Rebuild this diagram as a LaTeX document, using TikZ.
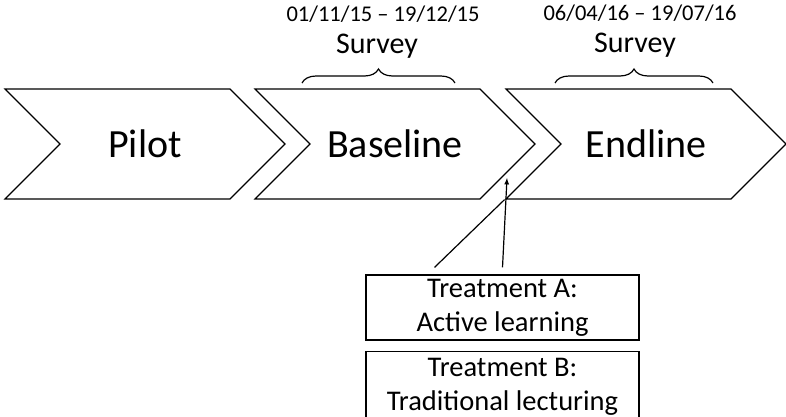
\documentclass[tikz,border=0pt]{standalone}
\usepackage{fontspec}
\setmainfont{Carlito}
\usetikzlibrary{positioning}
\usetikzlibrary{shapes.symbols}
\usetikzlibrary{decorations.pathreplacing}
\usetikzlibrary{arrows}
\tikzset{phase/.style={
          draw, line width=1.2pt, shape=signal, signal from=west, signal to=east,
          minimum width=280pt, minimum height=110pt, inner sep=0pt,
          font=\fontsize{40}{44}\selectfont
          },
        survey brace/.style={
          draw, line width=1.2pt, decorate, decoration={brace, amplitude=14pt}
          },
        survey label/.style={font=\fontsize{30}{34}\selectfont},
        date label/.style={font=\fontsize{22.5}{26}\selectfont},
        treatment/.style={
          draw, line width=1.2pt, minimum width=273pt, minimum height=65pt,
          inner sep=0pt, align=center, font=\fontsize{28.5}{34}\selectfont
          },
}
\begin{document}
\begin{tikzpicture}[x=1pt, y=-1pt]
      \useasboundingbox (0,0) rectangle (786,416);
      % PHASES
      \node[phase] (pilot) at (145,144) {Pilot};
      \node[phase] (baseline) at (395,144) {Baseline};
      \node[phase] (endline) at (646,144) {Endline};

      % SURVEYS
      \draw[survey brace] (302,83) -- (455,83) coordinate[midway](b1);
      \node[survey label] (survey1) at (377,46) {Survey};
      \node[date label] (date1) at (383,14) {01/11/15 -- 19/12/15};
      \draw[survey brace] (555,83) -- (713,83) coordinate[midway](b2);
      \node[survey label] (survey2) at (635,45) {Survey};
      \node[date label] (date2) at (640,13) {06/04/16 -- 19/07/16};

      % TREATMENTS
      \node[treatment] (treatA) at (502.5,307.5) {Treatment A:\\Active learning};
      \node[treatment, minimum height=72pt, below=10pt of treatA] (treatB) {Treatment B:\\Traditional lecturing};

      % WIRING to the gap between baseline and endline
      \coordinate (gap) at (507,178);
      \draw[line width=1.2pt] ([xshift=-68pt, yshift=7pt]treatA.north) -- (endline.south west);
      \draw[line width=1.2pt, -latex] ([yshift=7pt]treatA.north) -- (gap);
\end{tikzpicture}
\end{document}
